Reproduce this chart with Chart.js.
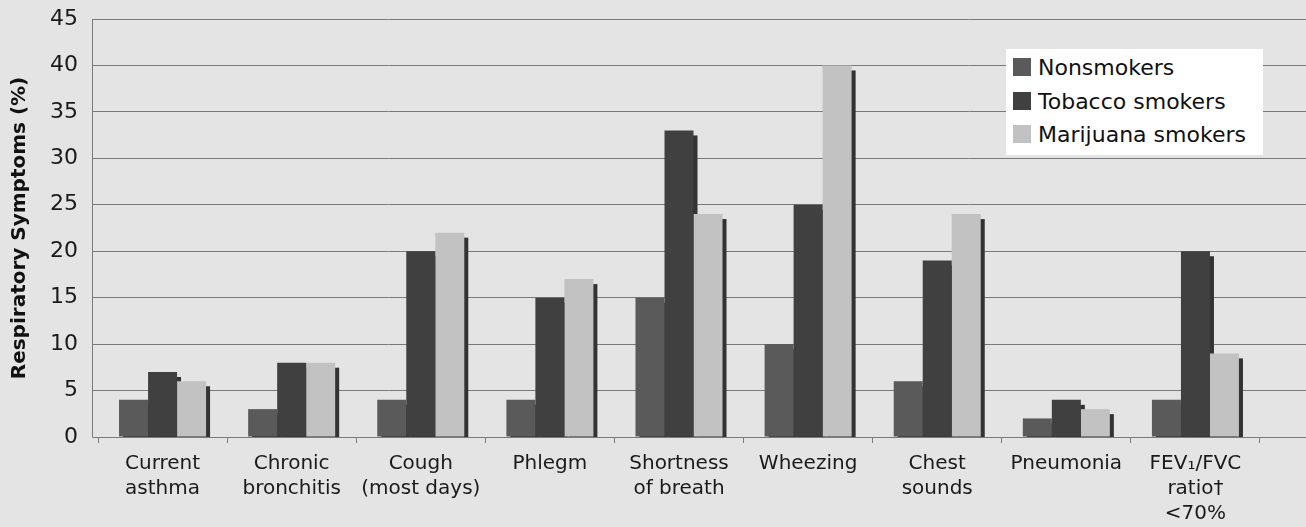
<!DOCTYPE html>
<html>
<head>
<meta charset="utf-8">
<script src="https://cdn.jsdelivr.net/npm/chart.js@4"></script>
<style>
  html, body { margin: 0; padding: 0; background: #e4e4e4; }
  #wrap { position: relative; width: 1306px; height: 527px; }
  #legend {
    position: absolute; left: 1006px; top: 49px; width: 257px; height: 106px;
    background: #fff; box-sizing: border-box; padding: 4px 0 0 7px;
    font-family: "DejaVu Sans", Verdana, sans-serif; font-size: 22px; color: #111;
  }
  #legend div { height: 33.5px; line-height: 30px; white-space: nowrap; }
  #legend span { display: inline-block; width: 18px; height: 18px; margin-right: 7px; vertical-align: -1px; }
</style>
</head>
<body>
<div id="wrap">
  <canvas id="symptoms-chart" width="1306" height="527"></canvas>
  <div id="legend"></div>
</div>
<script>
const categories = [
  ["Current", "asthma"],
  ["Chronic", "bronchitis"],
  ["Cough", "(most days)"],
  "Phlegm",
  ["Shortness", "of breath"],
  "Wheezing",
  ["Chest", "sounds"],
  "Pneumonia",
  ["FEV\u2081/FVC", "ratio\u2020", "<70%"],
];
const nonsmokers = [4, 3, 4, 4, 15, 10, 6, 2, 4];
const tobaccoSmokers = [7, 8, 20, 15, 33, 25, 19, 4, 20];
const marijuanaSmokers = [6, 8, 22, 17, 24, 40, 24, 3, 9];
const yTicks = [0, 5, 10, 15, 20, 25, 30, 35, 40, 45];

const seriesColors = ["#5a5a5a", "#404040", "#c2c2c2"];
const gridColor = "#7a7a7a";
const font = "'DejaVu Sans', Verdana, sans-serif";

// drop shadow behind every bar; the neighbouring bars cover most of it
const barShadow = {
  id: "barShadow",
  beforeDatasetsDraw(chart) {
    const { ctx: c, chartArea } = chart;
    c.save();
    c.beginPath();
    c.rect(chartArea.left, chartArea.top, chartArea.right - chartArea.left, chartArea.bottom - chartArea.top);
    c.clip();
    c.fillStyle = "#333333";
    chart.data.datasets.forEach((ds, i) => {
      chart.getDatasetMeta(i).data.forEach((bar) => {
        const { x, y, width, base } = bar.getProps(["x", "y", "width", "base"], true);
        c.fillRect(x - width / 2 + 4, y + 5, width, base - y);
      });
    });
    c.restore();
  },
};

// in the original the value axis sits a little left of the first category,
// and the gridlines run on past the last one
const gridRunout = {
  id: "gridRunout",
  beforeDatasetsDraw(chart) {
    const { ctx: c, chartArea, scales } = chart;
    const axisX = Math.round(chartArea.left - 6) + 0.5;
    c.save();
    c.strokeStyle = gridColor;
    c.lineWidth = 1;
    yTicks.forEach((v) => {
      const y = Math.round(scales.y.getPixelForValue(v) - 0.5) + 0.5;
      c.beginPath();
      c.moveTo(axisX, y);
      c.lineTo(chartArea.left, y);
      c.moveTo(chartArea.right, y);
      c.lineTo(chart.width, y);
      c.stroke();
    });
    c.beginPath();
    c.moveTo(axisX, chartArea.top);
    c.lineTo(axisX, chartArea.bottom);
    c.stroke();
    c.restore();
  },
};

const ctx = document.getElementById("symptoms-chart");

const chart = new Chart(ctx, {
  type: "bar",
  data: {
    labels: categories,
    datasets: [
      { label: "Nonsmokers", data: nonsmokers, backgroundColor: seriesColors[0] },
      { label: "Tobacco smokers", data: tobaccoSmokers, backgroundColor: seriesColors[1] },
      { label: "Marijuana smokers", data: marijuanaSmokers, backgroundColor: seriesColors[2] },
    ].map((d) => ({ ...d, borderWidth: 0, categoryPercentage: 0.674, barPercentage: 1 })),
  },
  plugins: [gridRunout, barShadow],
  options: {
    responsive: false,
    animation: false,
    layout: { padding: { top: 19, right: 46, left: 0, bottom: 0 } },
    plugins: {
      legend: { display: false },
      tooltip: { enabled: false },
    },
    scales: {
      x: {
        grid: {
          offset: true,
          drawOnChartArea: false,
          drawTicks: true,
          tickLength: 6,
          color: gridColor,
        },
        border: { color: gridColor, width: 1 },
        ticks: {
          maxRotation: 0,
          autoSkip: false,
          padding: 8,
          color: "#1a1a1a",
          font: { family: font, size: 20, lineHeight: 1.25 },
        },
        afterFit: (scale) => { scale.height = 90; },
      },
      y: {
        min: 0,
        max: 45,
        afterBuildTicks: (scale) => { scale.ticks = yTicks.map((v) => ({ value: v })); },
        grid: { color: gridColor, lineWidth: 1, drawTicks: false },
        border: { display: false },
        ticks: {
          padding: 20,
          color: "#1a1a1a",
          font: { family: font, size: 22 },
        },
        title: {
          display: true,
          text: "Respiratory Symptoms (%)",
          color: "#111",
          font: { family: font, size: 20, weight: "bold" },
          padding: { top: 8, bottom: 6 },
        },
        afterFit: (scale) => {
          scale.width = 98;
          scale.paddingTop = 0;
          scale.paddingBottom = 0;
        },
      },
    },
  },
});

// legend box sits inside the plot, top right
const legendEl = document.getElementById("legend");
chart.data.datasets.forEach((ds) => {
  const row = document.createElement("div");
  row.innerHTML = `<span style="background:${ds.backgroundColor}"></span>${ds.label}`;
  legendEl.appendChild(row);
});
</script>
</body>
</html>
